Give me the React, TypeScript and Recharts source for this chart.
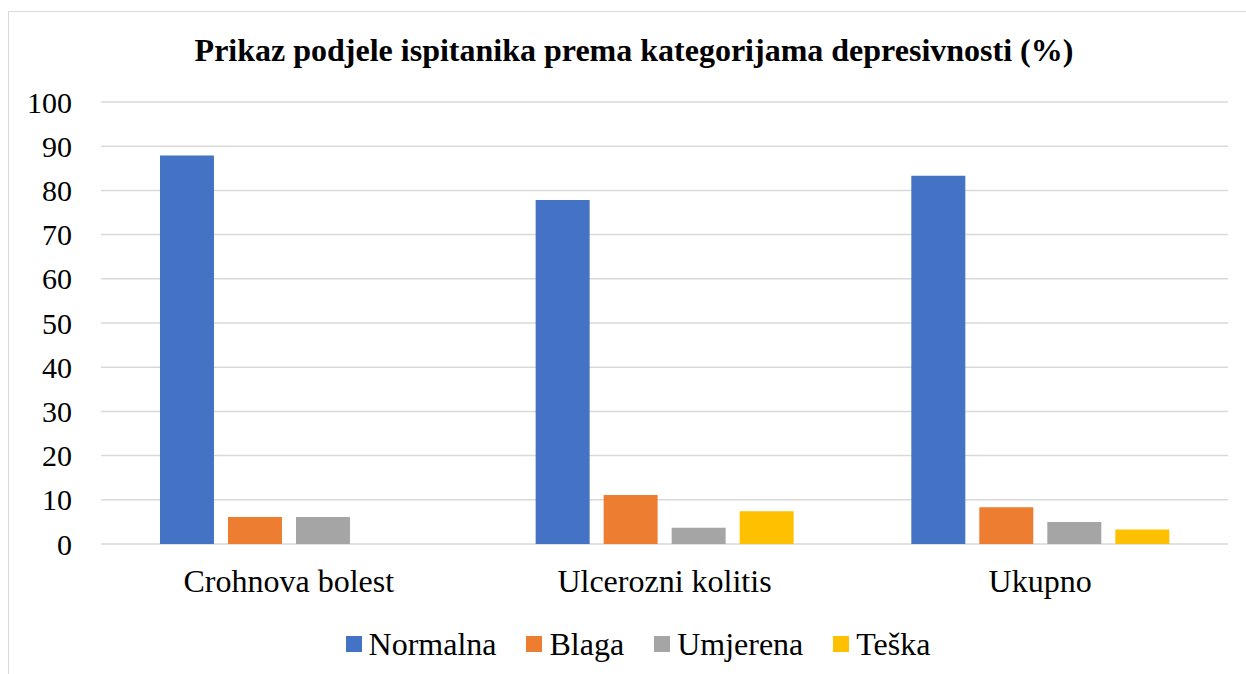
import React from 'react';
import { BarChart, Bar, XAxis, YAxis, CartesianGrid, Legend } from 'recharts';

const categories = ['Crohnova bolest', 'Ulcerozni kolitis', 'Ukupno'];
const normalna = [87.9, 77.8, 83.3];
const blaga = [6.1, 11.1, 8.3];
const umjerena = [6.1, 3.7, 5.0];
const teska = [0, 7.4, 3.3];
const yTicks = [0, 10, 20, 30, 40, 50, 60, 70, 80, 90, 100];

const seriesNames = ['Normalna', 'Blaga', 'Umjerena', 'Teška'];
const seriesKeys = ['normalna', 'blaga', 'umjerena', 'teska'];
const seriesColors = ['#4472C4', '#ED7D31', '#A5A5A5', '#FFC000'];

const data = categories.map((c, i) => ({
  name: c,
  normalna: normalna[i],
  blaga: blaga[i],
  umjerena: umjerena[i],
  teska: teska[i],
}));

const FONT = "'Liberation Serif', 'Times New Roman', serif";

const XTick = (props: any) => {
  const { x, y, payload } = props;
  return (
    <text
      x={x}
      y={y}
      dy={22}
      textAnchor="middle"
      fill="#000"
      fontSize={32}
      fontFamily={FONT}
      style={{ fontFamily: FONT }}
    >
      {payload.value}
    </text>
  );
};

const YTick = (props: any) => {
  const { x, y, payload } = props;
  return (
    <text
      x={x}
      y={y}
      dy={10.5}
      textAnchor="end"
      fill="#000"
      fontSize={30}
      fontFamily={FONT}
      style={{ fontFamily: FONT }}
    >
      {payload.value}
    </text>
  );
};

const LegendContent = () => (
  <div
    style={{
      display: 'flex',
      justifyContent: 'center',
      alignItems: 'center',
      height: 40,
      paddingLeft: 30,
      fontFamily: FONT,
      fontSize: 32,
      color: '#000',
      boxSizing: 'border-box',
    }}
  >
    {seriesNames.map((n, i) => (
      <div key={n} style={{ display: 'flex', alignItems: 'center', marginLeft: i === 0 ? 0 : 30 }}>
        <div style={{ width: 16, height: 16, background: seriesColors[i], marginRight: 7 }} />
        <span style={{ lineHeight: '40px', fontFamily: FONT }}>{n}</span>
      </div>
    ))}
  </div>
);

export default function App() {
  return (
    <div
      style={{
        position: 'fixed',
        left: 0,
        top: 0,
        width: 1246,
        height: 674,
        overflow: 'hidden',
        background: '#fff',
        fontFamily: FONT,
      }}
    >
      <div
        style={{
          position: 'absolute',
          left: 8,
          top: 11,
          width: 1250,
          height: 680,
          border: '1.5px solid #d9d9d9',
          boxSizing: 'border-box',
        }}
      />
      <div
        style={{
          position: 'absolute',
          left: 0,
          top: 28,
          width: 1268,
          textAlign: 'center',
          fontFamily: FONT,
          fontWeight: 'bold',
          fontSize: 32,
          lineHeight: '44px',
          color: '#000',
        }}
      >
        Prikaz podjele ispitanika prema kategorijama depresivnosti (%)
      </div>
      <div style={{ position: 'absolute', left: 0, top: 0 }}>
        <BarChart
          width={1246}
          height={674}
          data={data}
          margin={{ top: 102, right: 18, left: 0, bottom: 0 }}
          barCategoryGap="15.7%"
          barGap={14}
          style={{ fontFamily: FONT }}
        >
          <CartesianGrid vertical={false} stroke="#d9d9d9" strokeWidth={1.5} />
          <XAxis
            dataKey="name"
            axisLine={false}
            tickLine={false}
            tickSize={0}
            tickMargin={26}
            height={90}
            tick={<XTick />}
            interval={0}
          />
          <YAxis
            domain={[0, 100]}
            ticks={yTicks}
            axisLine={false}
            tickLine={false}
            tickSize={0}
            tickMargin={29}
            width={101}
            tick={<YTick />}
            interval={0}
          />
          <Legend
            verticalAlign="bottom"
            content={LegendContent}
            wrapperStyle={{ left: 0, width: 1246, bottom: 10, height: 40 }}
          />
          {seriesKeys.map((k, i) => (
            <Bar
              key={k}
              dataKey={k}
              name={seriesNames[i]}
              fill={seriesColors[i]}
              isAnimationActive={false}
            />
          ))}
        </BarChart>
      </div>
    </div>
  );
}
